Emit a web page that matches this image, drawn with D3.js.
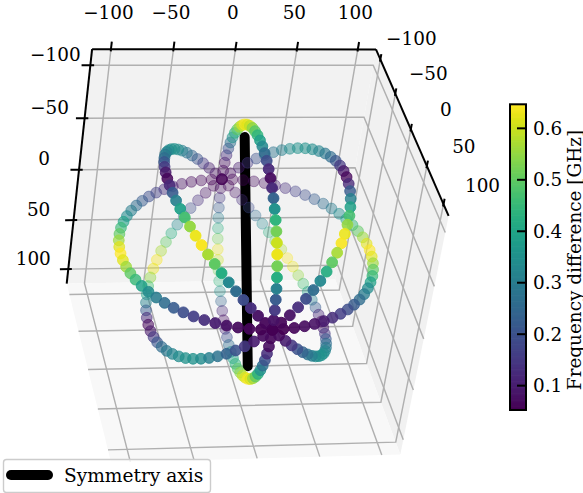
<!DOCTYPE html>
<html><head><meta charset="utf-8">
<script src="https://cdn.jsdelivr.net/npm/d3@7"></script>
<style>html,body{margin:0;padding:0;background:#fff}svg{display:block}text{font-family:"DejaVu Serif";fill:#000}</style>
</head><body><div id="c"></div>
<script>
const tickValues=[-100,-50,0,50,100];
const colorTicks=[0.1,0.2,0.3,0.4,0.5,0.6];
const axisLimit=115;
const symmetryEnd=[0,52,73.5];
const zeros=[0,0,0,0,0,0,0,0,0,0,0,0,0,0,0,0,0,0,0,0,0,0,0,0,0,0,0,0,0,0,0,0,0,0,0,0,0,0,0,0,0,0,0,0,0,0,0,0,0,0,0,0,0,0,0,0,0,0,0,0,0,0,0,0,0,0,0,0,0,0,0,0];
const ringY=[100,99.6,98.5,96.6,94,90.6,86.6,81.9,76.6,70.7,64.3,57.4,50,42.3,34.2,25.9,17.4,8.7,0,-8.7,-17.4,-25.9,-34.2,-42.3,-50,-57.4,-64.3,-70.7,-76.6,-81.9,-86.6,-90.6,-94,-96.6,-98.5,-99.6,-100,-99.6,-98.5,-96.6,-94,-90.6,-86.6,-81.9,-76.6,-70.7,-64.3,-57.4,-50,-42.3,-34.2,-25.9,-17.4,-8.7,0,8.7,17.4,25.9,34.2,42.3,50,57.4,64.3,70.7,76.6,81.9,86.6,90.6,94,96.6,98.5,99.6];
const ringDx=[0,8.7,17.4,25.9,34.2,42.3,50,57.4,64.3,70.7,76.6,81.9,86.6,90.6,94,96.6,98.5,99.6,100,99.6,98.5,96.6,94,90.6,86.6,81.9,76.6,70.7,64.3,57.4,50,42.3,34.2,25.9,17.4,8.7,0,-8.7,-17.4,-25.9,-34.2,-42.3,-50,-57.4,-64.3,-70.7,-76.6,-81.9,-86.6,-90.6,-94,-96.6,-98.5,-99.6,-100,-99.6,-98.5,-96.6,-94,-90.6,-86.6,-81.9,-76.6,-70.7,-64.3,-57.4,-50,-42.3,-34.2,-25.9,-17.4,-8.7];
const ringAz=[0,-8.7,-17.4,-25.9,-34.2,-42.3,-50,-57.4,-64.3,-70.7,-76.6,-81.9,-86.6,-90.6,-94,-96.6,-98.5,-99.6,-100,-99.6,-98.5,-96.6,-94,-90.6,-86.6,-81.9,-76.6,-70.7,-64.3,-57.4,-50,-42.3,-34.2,-25.9,-17.4,-8.7,0,8.7,17.4,25.9,34.2,42.3,50,57.4,64.3,70.7,76.6,81.9,86.6,90.6,94,96.6,98.5,99.6,100,99.6,98.5,96.6,94,90.6,86.6,81.9,76.6,70.7,64.3,57.4,50,42.3,34.2,25.9,17.4,8.7];
const ringCx=[0,6.2,12.3,18.3,24.2,29.9,35.4,40.6,45.4,50,54.2,57.9,61.2,64.1,66.4,68.3,69.6,70.4,70.7,70.4,69.6,68.3,66.4,64.1,61.2,57.9,54.2,50,45.4,40.6,35.4,29.9,24.2,18.3,12.3,6.2,0,-6.2,-12.3,-18.3,-24.2,-29.9,-35.4,-40.6,-45.4,-50,-54.2,-57.9,-61.2,-64.1,-66.4,-68.3,-69.6,-70.4,-70.7,-70.4,-69.6,-68.3,-66.4,-64.1,-61.2,-57.9,-54.2,-50,-45.4,-40.6,-35.4,-29.9,-24.2,-18.3,-12.3,-6.2];
const ringBx=[0,-6.2,-12.3,-18.3,-24.2,-29.9,-35.4,-40.6,-45.4,-50,-54.2,-57.9,-61.2,-64.1,-66.4,-68.3,-69.6,-70.4,-70.7,-70.4,-69.6,-68.3,-66.4,-64.1,-61.2,-57.9,-54.2,-50,-45.4,-40.6,-35.4,-29.9,-24.2,-18.3,-12.3,-6.2,0,6.2,12.3,18.3,24.2,29.9,35.4,40.6,45.4,50,54.2,57.9,61.2,64.1,66.4,68.3,69.6,70.4,70.7,70.4,69.6,68.3,66.4,64.1,61.2,57.9,54.2,50,45.4,40.6,35.4,29.9,24.2,18.3,12.3,6.2];
const ringAf=[.055,.08,.15,.22,.31,.42,.52,.63,.60,.52,.44,.35,.24,.12,.07,.12,.19,.26,.33,.39,.44,.49,.54,.59,.62,.64,.61,.56,.50,.42,.35,.27,.20,.13,.07,.06,.055,.08,.15,.22,.31,.42,.52,.63,.60,.52,.44,.35,.24,.12,.07,.12,.19,.26,.33,.39,.44,.49,.54,.59,.62,.64,.61,.56,.50,.42,.35,.27,.20,.13,.07,.06];
const ringBf=[.055,.06,.08,.13,.19,.26,.33,.42,.5,.57,.64,.63,.55,.47,.39,.31,.22,.12,.06,.09,.15,.21,.26,.29,.32,.34,.35,.35,.34,.31,.28,.24,.2,.15,.1,.07,.055,.06,.08,.13,.19,.26,.33,.42,.5,.57,.64,.63,.55,.47,.39,.31,.22,.12,.06,.09,.15,.21,.26,.29,.32,.34,.35,.35,.34,.31,.28,.24,.2,.15,.1,.07];
const ringDf=[.055,.055,.06,.07,.08,.10,.13,.16,.19,.22,.26,.30,.34,.39,.45,.50,.56,.62,.645,.62,.56,.50,.45,.39,.34,.30,.26,.22,.19,.16,.13,.10,.08,.07,.06,.055,.055,.055,.06,.07,.08,.10,.13,.16,.19,.22,.26,.30,.34,.39,.45,.50,.56,.62,.645,.62,.56,.50,.45,.39,.34,.30,.26,.22,.19,.16,.13,.10,.08,.07,.06,.055];
const rings=[
 {x:zeros,z:ringAz,f:ringAf},
 {x:ringBx,z:ringBx,f:ringBf},
 {x:ringCx,z:ringBx,f:ringBf},
 {x:ringDx,z:zeros,f:ringDf}
];
const colorDomain=[0.0527,0.6467];
const legendLabel="Symmetry axis", colorLabel="Frequency difference [GHz]";

const W=583,H=493;
const svg=d3.select("#c").append("svg").attr("width",W).attr("height",H);
const norm=d3.scaleLinear().domain([-axisLimit,axisLimit]).range([-1,1]);
const cam={O:[246.2,251.8],U:[145.7,.6],V:[19.1,76.3],W:[-10.7,125.7],p:.01,q:-.04,r:.03};
function project(x,y,z){
  const a=norm(x),b=norm(y),c=norm(z),s=1+cam.p*a+cam.q*b+cam.r*c;
  return {X:(cam.O[0]+cam.U[0]*a+cam.V[0]*b+cam.W[0]*c)/s,Y:(cam.O[1]+cam.U[1]*a+cam.V[1]*b+cam.W[1]*c)/s,s};
}
const L=axisLimit;
const line=d3.line().x(d=>d.X).y(d=>d.Y);
const P=(...a)=>project(...a);
// panes
const panes=[
 {c:[P(-L,-L,-L),P(L,-L,-L),P(L,-L,L),P(-L,-L,L)],f:"#f2f2f2"},
 {c:[P(L,-L,-L),P(L,L,-L),P(L,L,L),P(L,-L,L)],f:"#f1f1f1"},
 {c:[P(-L,-L,L),P(L,-L,L),P(L,L,L),P(-L,L,L)],f:"#f8f8f8"}
];
svg.append("g").selectAll("path").data(panes).join("path").attr("d",d=>line(d.c)+"Z").attr("fill",d=>d.f);
// grid
const gridData=[];
tickValues.forEach(t=>{
  gridData.push([P(t,-L,-L),P(t,-L,L),P(t,L,L)]);
  gridData.push([P(L,t,-L),P(L,t,L),P(-L,t,L)]);
  gridData.push([P(-L,-L,t),P(L,-L,t),P(L,L,t)]);
});
svg.append("g").selectAll("path").data(gridData).join("path").attr("d",line).attr("fill","none").attr("stroke","#b0b0b0").attr("stroke-width",1.45);
// axis lines
const axLines=[[P(-L,-L,-L),P(L,-L,-L)],[P(L,-L,-L),P(L,L,-L)],[P(-L,-L,-L),P(-L,-L,L)]];
svg.append("g").selectAll("path").data(axLines).join("path").attr("d",line).attr("fill","none").attr("stroke","#000").attr("stroke-width",2);
// ticks
const tk=[];
tickValues.forEach(t=>{
  tk.push([P(t,-L,-L-7),P(t,-L,-L+2)]);
  tk.push([P(L,t,-L-5),P(L,t,-L+2)]);
  tk.push([P(-L-7,-L,t),P(-L+3,-L,t)]);
});
svg.append("g").selectAll("path").data(tk).join("path").attr("d",line).attr("fill","none").attr("stroke","#000").attr("stroke-width",2);
// tick labels
const fmt=v=>String(v).replace("-","\u2212");
const lab=svg.append("g").attr("font-size",18.4).attr("text-anchor","middle").attr("dominant-baseline","central");
tickValues.forEach(t=>{
  let p=P(t,-L,-L); lab.append("text").attr("x",p.X-2.5).attr("y",p.Y-37).text(fmt(t));
  p=P(L,t,-L); lab.append("text").attr("x",p.X+35+.04*t).attr("y",p.Y-20.2+.01*t).text(fmt(t));
  p=P(-L,-L,t); lab.append("text").attr("x",p.X-35).attr("y",p.Y-11).text(fmt(t));
});
// symmetry axis
const se=symmetryEnd;
svg.append("path").attr("d",line([P(-se[0],-se[1],-se[2]),P(se[0],se[1],se[2])])).attr("stroke","#000").attr("stroke-width",10).attr("stroke-linecap","round").attr("fill","none");
// points
const color=d3.scaleSequential(d3.interpolateViridis).domain(colorDomain);
const pts=[];
rings.forEach(r=>ringY.forEach((y,i)=>{const p=P(r.x[i],y,r.z[i]);pts.push({X:p.X,Y:p.Y,s:p.s,f:r.f[i]});}));
pts.sort((a,b)=>b.s-a.s);
const alpha=d3.scaleLinear().domain(d3.extent(pts,d=>d.s)).range([1,.3]);
svg.append("g").selectAll("circle").data(pts).join("circle")
 .attr("cx",d=>d.X).attr("cy",d=>d.Y).attr("r",5.4)
 .attr("fill",d=>color(d.f)).attr("stroke",d=>color(d.f))
 .attr("fill-opacity",d=>alpha(d.s)).attr("stroke-opacity",d=>alpha(d.s)).attr("stroke-width",1);
// colorbar
const cy=d3.scaleLinear().domain(colorDomain).range([410,104.3]);
const cb=svg.append("g");
cb.selectAll("rect").data(d3.range(256).map(i=>colorDomain[0]+(colorDomain[1]-colorDomain[0])*i/256)).join("rect")
 .attr("x",510).attr("width",16).attr("y",d=>cy(d)-1.4).attr("height",1.9).attr("fill",d=>color(d));
cb.append("rect").attr("x",510).attr("y",104.3).attr("width",16).attr("height",305.7).attr("fill","none").attr("stroke","#000").attr("stroke-width",2);
cb.selectAll(".t").data(colorTicks).join("line").attr("x1",517).attr("x2",526).attr("y1",d=>cy(d)).attr("y2",d=>cy(d)).attr("stroke","#000").attr("stroke-width",2);
cb.selectAll(".l").data(colorTicks).join("text").attr("x",533).attr("y",d=>cy(d)).attr("dominant-baseline","central").attr("font-size",18.4).text(d=>d.toFixed(1));
svg.append("text").attr("transform","translate(574,260) rotate(-90)").attr("text-anchor","middle").attr("dominant-baseline","central").attr("font-size",18.4).text(colorLabel);
// legend
const lg=svg.append("g");
lg.append("rect").attr("x",3.5).attr("y",459.5).attr("width",207).attr("height",33).attr("rx",3).attr("fill","#fff").attr("fill-opacity",.8).attr("stroke","#ccc").attr("stroke-width",1.4);
lg.append("line").attr("x1",11).attr("x2",48).attr("y1",475).attr("y2",475).attr("stroke","#000").attr("stroke-width",10).attr("stroke-linecap","round");
lg.append("text").attr("x",64).attr("y",475.5).attr("dominant-baseline","central").attr("font-size",18.6).text(legendLabel);
</script></body></html>
